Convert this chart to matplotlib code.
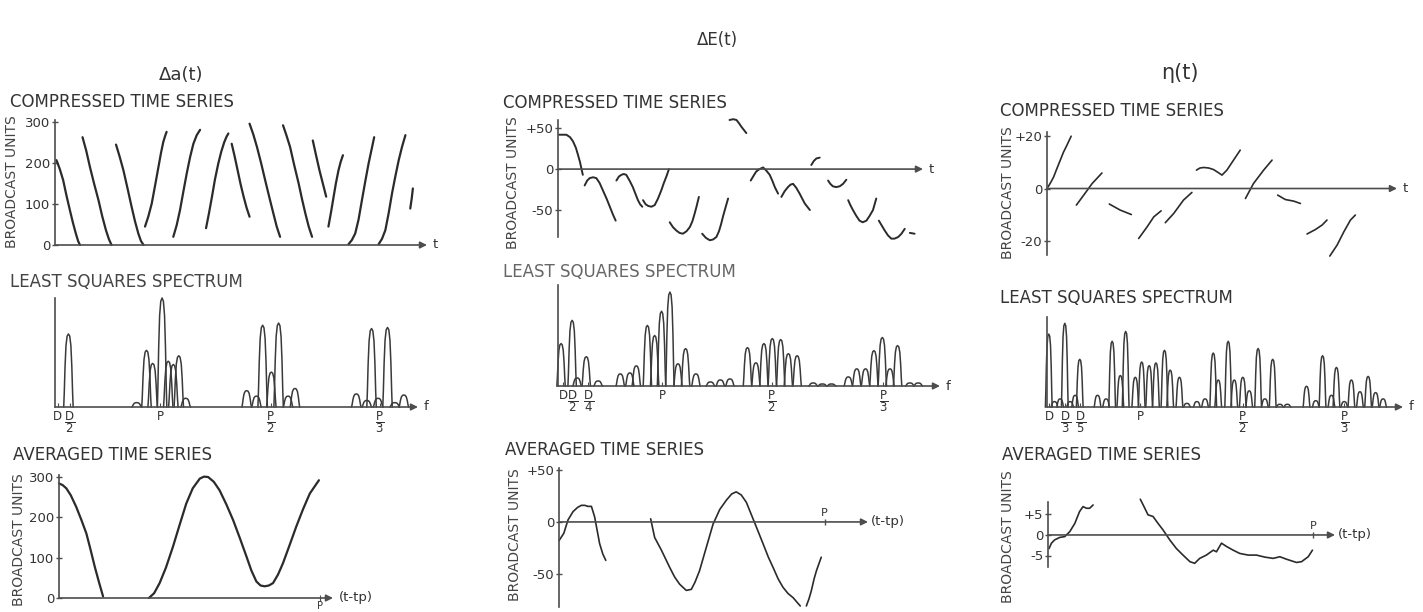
import numpy as np
import matplotlib.pyplot as plt

plt.rcParams['font.family'] = ['DejaVu Sans']
plt.rcParams['mathtext.fontset'] = 'dejavusans'

W, H = 1423, 612
INK = '#2b2b2b'
AXIS = '#4d4d4d'
TEXT = '#333333'

COLUMN_TITLES = ['Δa(t)', 'ΔE(t)', 'η(t)']

# compressed time series: one list of (t, value) per drawn piece, t runs 0..100 to the arrow
DA_COMPRESSED = [
    [(0.4, 207), (1.3, 185), (2.2, 158), (3.1, 120), (4.0, 85), (4.8, 55), (5.6, 28), (6.2, 10), (6.7, 0)],
    [(7.4, 263), (8.4, 230), (9.4, 190), (10.5, 150), (11.7, 109), (12.7, 70), (13.7, 36), (14.5, 14), (15.2, 0)],
    [(16.4, 245), (17.4, 215), (18.4, 182), (19.5, 138), (20.6, 93), (21.5, 58), (22.4, 28), (23.1, 10), (23.8, 0)],
    [(24.2, 45), (25.1, 70), (26.0, 101), (26.9, 145), (27.8, 190), (28.5, 225), (29.1, 251), (29.6, 266), (30.0, 276)],
    [(31.8, 20), (32.7, 48), (33.6, 85), (34.5, 130), (35.4, 174), (36.3, 214), (37.2, 247), (38.1, 268), (39.0, 281)],
    [(40.6, 41), (41.4, 78), (42.2, 118), (43.0, 160), (43.9, 199), (44.7, 228), (45.5, 251), (46.1, 264), (46.6, 272)],
    [(47.5, 247), (48.3, 216), (49.1, 182), (49.9, 148), (50.7, 118), (51.5, 91), (52.3, 69)],
    [(52.3, 296), (53.3, 270), (54.3, 239), (55.4, 200), (56.5, 158), (57.6, 117), (58.7, 77), (59.6, 45), (60.5, 20)],
    [(61.3, 292), (62.2, 268), (63.2, 239), (64.3, 195), (65.5, 150), (66.4, 112), (67.3, 77), (68.2, 45), (69.1, 20)],
    [(69.3, 255), (70.2, 218), (71.1, 182), (72.0, 150), (72.9, 118)],
    [(73.5, 45), (74.2, 80), (74.9, 118), (75.5, 150), (76.2, 182), (76.8, 203), (77.4, 219)],
    [(78.9, 2), (79.8, 12), (80.7, 28), (81.6, 62), (82.5, 109), (83.4, 155), (84.3, 199), (85.1, 233), (85.8, 263)],
    [(87.0, 2), (87.9, 15), (88.8, 36), (89.7, 78), (90.6, 126), (91.5, 168), (92.4, 207), (93.3, 240), (94.2, 268)],
    [(95.5, 89), (95.9, 114), (96.2, 138)],
]
DE_COMPRESSED = [
    [(0.3, 42), (2.3, 42), (3.3, 39), (4.1, 34), (4.9, 26), (5.5, 17), (6.0, 9), (6.4, 1), (6.8, -7)],
    [(7.3, -20), (8.0, -14), (8.7, -11), (9.6, -10), (10.5, -11), (11.4, -17), (12.3, -26), (13.3, -36), (14.2, -46), (15.0, -55), (15.8, -63)],
    [(16.0, -14), (16.7, -9), (17.4, -7), (18.0, -6), (18.7, -7), (19.6, -14), (20.5, -22), (21.2, -30), (21.9, -38), (22.5, -43), (23.1, -46)],
    [(23.3, -38), (24.0, -43), (24.7, -45), (25.6, -46), (26.5, -44), (27.4, -36), (28.3, -26), (29.0, -17), (29.7, -9), (30.4, 0)],
    [(30.6, -65), (31.5, -71), (32.4, -75), (33.3, -78), (34.2, -79), (35.2, -76), (36.1, -71), (36.8, -64), (37.4, -55), (38.0, -45), (38.6, -34)],
    [(39.5, -79), (40.5, -84), (41.6, -87), (42.5, -86), (43.4, -83), (44.1, -76), (44.7, -67), (45.2, -58), (45.7, -50), (46.6, -36)],
    [(47.0, 60), (48.0, 61), (48.9, 60), (49.6, 56), (50.2, 52), (51.6, 44)],
    [(52.8, -14), (53.6, -8), (54.3, -3), (55.2, 0), (56.2, 2), (57.1, -2), (58.0, -7), (58.7, -14), (59.4, -22), (60.3, -30)],
    [(61.2, -34), (62.1, -27), (63.0, -22), (63.7, -19), (64.4, -18), (65.3, -23), (66.2, -30), (66.9, -36), (67.6, -42), (68.3, -46), (69.0, -50)],
    [(69.4, 5), (70.1, 10), (70.8, 13), (71.7, 14)],
    [(74.0, -14), (74.6, -18), (75.3, -21), (76.2, -22), (77.2, -21), (78.1, -18), (79.0, -13)],
    [(79.5, -38), (80.1, -44), (80.8, -50), (81.7, -57), (82.6, -63), (83.5, -65), (84.5, -63), (85.4, -57), (86.3, -50), (87.2, -36)],
    [(87.9, -63), (88.7, -69), (89.5, -75), (90.4, -81), (91.3, -85), (92.2, -85), (93.2, -83), (94.1, -79), (95.0, -73)],
    [(96.4, -78), (97.7, -79)],
]
ETA_COMPRESSED = [
    [(0.3, 0.6), (1.1, 2.4), (1.9, 4.4), (2.8, 7.5), (3.8, 10.8), (4.7, 13.8), (5.7, 16.5), (6.9, 19.9)],
    [(8.4, -6.3), (10.5, -2.5), (12.9, 1.9), (15.7, 5.9)],
    [(17.8, -5.9), (20.9, -8.2), (24.1, -9.9)],
    [(26.2, -19.0), (28.6, -14.6), (30.5, -10.8), (32.6, -8.5)],
    [(33.8, -13.0), (36.2, -9.5), (39.0, -4.4), (41.4, -1.5)],
    [(42.7, 7.0), (43.7, 7.8), (44.8, 8.0), (46.2, 7.8), (47.6, 7.2), (49.0, 6.0), (50.0, 5.1),
     (51.4, 7.0), (53.3, 10.8), (55.2, 14.6)],
    [(56.7, -3.8), (59.0, 1.9), (61.9, 7.0), (64.3, 10.8)],
    [(65.9, -2.5), (68.1, -4.2), (70.5, -4.8), (72.4, -5.7)],
    [(74.3, -17.3), (76.7, -15.6), (78.6, -13.9), (80.0, -12.0)],
    [(80.8, -25.7), (82.9, -21.5), (84.8, -16.5), (86.7, -12.0), (88.1, -10.1)],
]

# least squares spectra: peak frequency (0..100 to the arrow) and height (1 = top of axis)
DA_PEAK_F = [3.7, 22.5, 25.2, 26.9, 29.5, 31.2, 32.6, 34.1, 36.0, 52.8, 55.5, 57.2,
             59.6, 61.6, 64.2, 66.1, 83.0, 85.9, 87.2, 89.0, 91.6, 93.6, 96.1]
DA_PEAK_H = [0.67, 0.04, 0.52, 0.40, 1.00, 0.42, 0.39, 0.47, 0.08, 0.15, 0.10, 0.75,
             0.32, 0.77, 0.10, 0.17, 0.12, 0.06, 0.72, 0.08, 0.73, 0.04, 0.11]
DA_SPEC_TICKS = [0.8, 4.1, 28.9, 59.4, 89.4]
DA_SPEC_LABELS = ['D', r'$\dfrac{\mathrm{D}}{2}$', 'P', r'$\dfrac{\mathrm{P}}{2}$',
                  r'$\dfrac{\mathrm{P}}{3}$']

DE_PEAK_F = [0.8, 3.7, 5.0, 7.4, 10.5, 16.3, 18.8, 20.5, 23.4, 25.3, 27.1, 29.3, 31.4,
             33.4, 36.1, 39.9, 42.5, 45.0, 49.6, 51.8, 53.9, 56.1, 58.3, 60.3, 62.6,
             66.8, 69.2, 71.6, 76.0, 78.2, 80.5, 82.7, 84.9, 86.9, 88.9, 92.1, 94.3]
DE_PEAK_H = [0.42, 0.65, 0.08, 0.29, 0.05, 0.12, 0.13, 0.20, 0.60, 0.50, 0.74, 0.93, 0.22,
             0.37, 0.12, 0.04, 0.06, 0.07, 0.38, 0.23, 0.42, 0.47, 0.46, 0.32, 0.30,
             0.03, 0.02, 0.02, 0.09, 0.17, 0.17, 0.35, 0.48, 0.17, 0.40, 0.03, 0.03]
DE_SPEC_TICKS = [1.3, 3.9, 7.9, 27.3, 55.9, 85.2]
DE_SPEC_LABELS = ['D', r'$\dfrac{\mathrm{D}}{2}$', r'$\dfrac{\mathrm{D}}{4}$', 'P',
                  r'$\dfrac{\mathrm{P}}{2}$', r'$\dfrac{\mathrm{P}}{3}$']

ETA_PEAK_F = [0.5, 2.1, 3.7, 5.0, 6.5, 7.9, 9.2, 14.2, 16.6, 18.3, 20.6, 22.1, 24.8, 26.6,
              28.7, 30.6, 33.0, 34.6, 37.2, 39.3, 42.1, 44.4, 46.7, 48.1, 50.9, 52.6,
              55.0, 56.8, 59.3, 61.2, 63.4, 65.4, 67.5, 72.9, 75.5, 77.4, 79.9, 81.3,
              83.5, 85.5, 87.9, 90.2, 92.3, 94.4]
ETA_PEAK_H = [0.81, 0.06, 0.09, 0.93, 0.06, 0.13, 0.53, 0.13, 0.09, 0.73, 0.35, 0.84, 0.33, 0.50,
              0.46, 0.49, 0.63, 0.41, 0.33, 0.04, 0.06, 0.09, 0.60, 0.30, 0.73, 0.30,
              0.33, 0.18, 0.65, 0.09, 0.53, 0.03, 0.03, 0.23, 0.07, 0.57, 0.13, 0.44,
              0.06, 0.30, 0.17, 0.34, 0.16, 0.09]
ETA_SPEC_TICKS = [0.7, 5.1, 9.3, 26.2, 55.1, 83.5]
ETA_SPEC_LABELS = ['D', r'$\dfrac{\mathrm{D}}{3}$', r'$\dfrac{\mathrm{D}}{5}$', 'P',
                   r'$\dfrac{\mathrm{P}}{2}$', r'$\dfrac{\mathrm{P}}{3}$']

# outline of one spectral peak (relative offsets, scaled by width and height)
PEAK_DX = np.array([-1, -0.88, -0.72, -0.52, -0.28, 0, 0.28, 0.52, 0.72, 0.88, 1])
PEAK_DY = np.array([0, 0.2, 0.55, 0.84, 0.97, 1, 0.97, 0.84, 0.55, 0.2, 0])

# averaged time series, x as a fraction of the period P
DA_AVERAGED = [
    [(0.0, 284), (0.014, 280), (0.028, 272), (0.045, 255), (0.066, 226), (0.085, 195),
     (0.105, 160), (0.121, 120), (0.137, 78), (0.153, 40), (0.169, 4)],
    [(0.345, 0), (0.365, 12), (0.386, 37), (0.41, 75), (0.437, 127), (0.462, 180),
     (0.488, 234), (0.513, 272), (0.540, 296), (0.556, 301), (0.572, 300), (0.594, 288),
     (0.616, 267), (0.642, 232), (0.668, 193), (0.694, 148), (0.719, 103), (0.738, 68),
     (0.757, 41), (0.773, 31), (0.789, 29), (0.805, 31), (0.821, 37), (0.840, 58),
     (0.859, 86), (0.885, 132), (0.910, 177), (0.936, 220), (0.962, 259), (0.997, 292)],
]
DE_AVERAGED = [
    [(0.0, -18), (0.018, -11), (0.034, 2), (0.053, 10), (0.070, 14), (0.084, 16), (0.097, 16),
     (0.109, 15), (0.122, 15), (0.134, 5), (0.153, -21), (0.165, -31), (0.176, -37)],
    [(0.345, 3), (0.360, -15), (0.385, -27), (0.417, -44), (0.435, -53), (0.454, -60),
     (0.479, -66), (0.498, -65), (0.512, -58), (0.529, -47), (0.555, -24), (0.580, -2),
     (0.605, 12), (0.630, 21), (0.650, 27), (0.667, 29), (0.686, 26), (0.705, 19),
     (0.724, 7), (0.743, -5), (0.768, -21), (0.788, -34), (0.806, -44), (0.825, -55),
     (0.843, -63), (0.862, -69), (0.881, -73), (0.908, -81)],
    [(0.931, -81), (0.941, -74), (0.950, -66), (0.960, -55), (0.969, -47), (0.987, -34)],
]
ETA_AVERAGED = [
    [(0.004, -3.3), (0.013, -2.0), (0.025, -1.2), (0.044, -0.6), (0.063, -0.4),
     (0.082, 0.8), (0.101, 2.8), (0.119, 5.7), (0.132, 6.9), (0.145, 6.5),
     (0.157, 6.5), (0.170, 7.3)],
    [(0.348, 8.7), (0.365, 6.5), (0.377, 4.9), (0.396, 4.5), (0.415, 2.8), (0.434, 1.2),
     (0.459, -1.2), (0.484, -3.3), (0.509, -4.9), (0.535, -6.5), (0.553, -6.9),
     (0.572, -5.7), (0.597, -4.9), (0.623, -3.7), (0.635, -4.1), (0.654, -2.0),
     (0.673, -2.8), (0.698, -3.7), (0.723, -4.5), (0.755, -4.9), (0.786, -4.9),
     (0.818, -5.4), (0.849, -5.7), (0.874, -5.3), (0.899, -5.9), (0.937, -6.7),
     (0.956, -6.5), (0.981, -5.3), (0.997, -3.7)],
]


def rect(x0, y0, x1, y1):
    # pixel box (left, top, right, bottom) -> figure fraction
    return [x0 / W, 1 - y1 / H, (x1 - x0) / W, (y1 - y0) / H]


def put(fig, x, y, s, **kw):
    fig.text(x / W, 1 - y / H, s, **kw)


def bare_axes(fig, box, xlim, ylim, ybounds=None):
    ax = fig.add_axes(rect(*box))
    ax.set_xlim(xlim)
    ax.set_ylim(ylim)
    for side in ('top', 'right', 'bottom'):
        ax.spines[side].set_visible(False)
    ax.spines['left'].set_color(AXIS)
    ax.spines['left'].set_linewidth(1.2)
    if ybounds:
        ax.spines['left'].set_bounds(*ybounds)
    ax.patch.set_alpha(0)
    ax.set_xticks([])
    ax.tick_params(axis='y', direction='inout', length=5, width=1, color=AXIS,
                   labelsize=9.5, labelcolor=TEXT, pad=1)
    return ax


def arrow(ax, label, label_dx=4, label_dy=0):
    ax.annotate('', xy=(1, 0), xytext=(0, 0), xycoords=('axes fraction', 'data'),
                arrowprops=dict(arrowstyle='-|>', color=AXIS, lw=1.2, mutation_scale=10,
                                shrinkA=0, shrinkB=0))
    ax.annotate(label, xy=(1, 0), xycoords=('axes fraction', 'data'),
                xytext=(label_dx, label_dy), textcoords='offset points',
                va='center', ha='left', fontsize=9.5, color=TEXT)


def series_panel(fig, box, pieces, xlim, ylim, ticks, labels, lw, ybounds=None):
    ax = bare_axes(fig, box, xlim, ylim, ybounds)
    for piece in pieces:
        xs, ys = zip(*piece)
        ax.plot(xs, ys, color=INK, lw=lw, clip_on=False, solid_capstyle='round',
                solid_joinstyle='round')
    ax.set_yticks(ticks, labels)
    return ax


def spectrum_panel(fig, box, freqs, heights, half_width, ticks, labels):
    ax = bare_axes(fig, box, (0, 100), (0, 1))
    ax.set_yticks([])
    for f, h in zip(freqs, heights):
        ax.plot(f + half_width * PEAK_DX, h * PEAK_DY, color='#3a3a3a', lw=1.1,
                clip_on=False, solid_joinstyle='round')
    ax.set_xticks(ticks, labels)
    ax.tick_params(axis='x', direction='in', length=3, color=AXIS, labelsize=8.5,
                   labelcolor=TEXT, pad=2)
    arrow(ax, 'f')
    return ax


def draw():
    fig = plt.figure(figsize=(W / 100, H / 100), dpi=100)
    fig.patch.set_facecolor('white')

    # column titles
    put(fig, 181, 75, COLUMN_TITLES[0], fontsize=13, color=TEXT, ha='center', va='center')
    put(fig, 717, 40, COLUMN_TITLES[1], fontsize=12, color=TEXT, ha='center', va='center')
    put(fig, 1180, 73, COLUMN_TITLES[2], fontsize=15, color=TEXT, ha='center', va='center')

    head = dict(fontsize=12, color=TEXT, ha='left', va='center')
    side = dict(fontsize=10, color='#444444', rotation=90, ha='center', va='center')

    # ---- Δa(t)
    put(fig, 10, 102, 'COMPRESSED TIME SERIES', **head)
    put(fig, 12, 182, 'BROADCAST UNITS', **side)
    ax = series_panel(fig, (55, 120, 427, 245), DA_COMPRESSED, (0, 100), (0, 305),
                      [0, 100, 200, 300], ['0', '100', '200', '300'], 1.6)
    arrow(ax, 't')

    put(fig, 10, 282, 'LEAST SQUARES SPECTRUM', color='#444444', fontsize=12,
        ha='left', va='center')
    spectrum_panel(fig, (55, 298, 418, 407), DA_PEAK_F, DA_PEAK_H, 1.3,
                   DA_SPEC_TICKS, DA_SPEC_LABELS)

    put(fig, 13, 455, 'AVERAGED TIME SERIES', **head)
    put(fig, 19, 540, 'BROADCAST UNITS', **side)
    ax = series_panel(fig, (59, 475, 333, 598), DA_AVERAGED, (0, 1.051), (0, 305),
                      [0, 100, 200, 300], ['0', '100', '200', '300'], 1.6)
    arrow(ax, '(t-tp)')
    ax.set_xticks([1.0], ['P'])
    ax.tick_params(axis='x', direction='inout', length=4, color=AXIS, labelsize=7,
                   labelcolor=TEXT, pad=0)

    # ---- ΔE(t)
    put(fig, 503, 103, 'COMPRESSED TIME SERIES', **head)
    put(fig, 513, 183, 'BROADCAST UNITS', **side)
    ax = series_panel(fig, (558, 120, 923, 237), DE_COMPRESSED, (0, 100), (-83, 60),
                      [50, 0, -50], ['+50', '0', '-50'], 1.4)
    arrow(ax, 't')

    put(fig, 503, 272, 'LEAST SQUARES SPECTRUM', color='#666666', fontsize=12,
        ha='left', va='center')
    spectrum_panel(fig, (558, 285, 940, 386), DE_PEAK_F, DE_PEAK_H, 1.1,
                   DE_SPEC_TICKS, DE_SPEC_LABELS)

    put(fig, 505, 450, 'AVERAGED TIME SERIES', **head)
    put(fig, 515, 535, 'BROADCAST UNITS', **side)
    ax = series_panel(fig, (559, 468, 868, 607), DE_AVERAGED, (0, 1.163), (-82, 52),
                      [50, 0, -50], ['+50', '0', '-50'], 1.2)
    arrow(ax, '(t-tp)', label_dx=2)
    ax.plot(1.0, 0, marker='|', color=AXIS, ms=5)
    ax.annotate('P', xy=(1.0, 0), xytext=(0, 3), textcoords='offset points',
                ha='center', va='bottom', fontsize=8, color=TEXT)

    # ---- η(t)
    put(fig, 1000, 111, 'COMPRESSED TIME SERIES', **head)
    put(fig, 1008, 193, 'BROADCAST UNITS', **side)
    ax = series_panel(fig, (1047, 132, 1397, 255), ETA_COMPRESSED, (0, 100), (-25.3, 21.5),
                      [20, 0, -20], ['+20', '0', '-20'], 1.2)
    arrow(ax, 't')

    put(fig, 1000, 298, 'LEAST SQUARES SPECTRUM', **head)
    spectrum_panel(fig, (1047, 317, 1403, 407), ETA_PEAK_F, ETA_PEAK_H, 0.95,
                   ETA_SPEC_TICKS, ETA_SPEC_LABELS)

    put(fig, 1002, 455, 'AVERAGED TIME SERIES', **head)
    put(fig, 1008, 537, 'BROADCAST UNITS', **side)
    ax = series_panel(fig, (1048, 498, 1335, 567), ETA_AVERAGED, (0, 1.082), (-7.8, 9.0),
                      [5, 0, -5], ['+5', '0', '-5'], 1.2, ybounds=(-7.8, 8.0))
    arrow(ax, '(t-tp)', label_dx=2)
    ax.plot(1.0, 0, marker='|', color=AXIS, ms=5)
    ax.annotate('P', xy=(1.0, 0), xytext=(0, 3), textcoords='offset points',
                ha='center', va='bottom', fontsize=8, color=TEXT)

    fig.savefig('out.png', dpi=100)


if __name__ == '__main__':
    draw()
